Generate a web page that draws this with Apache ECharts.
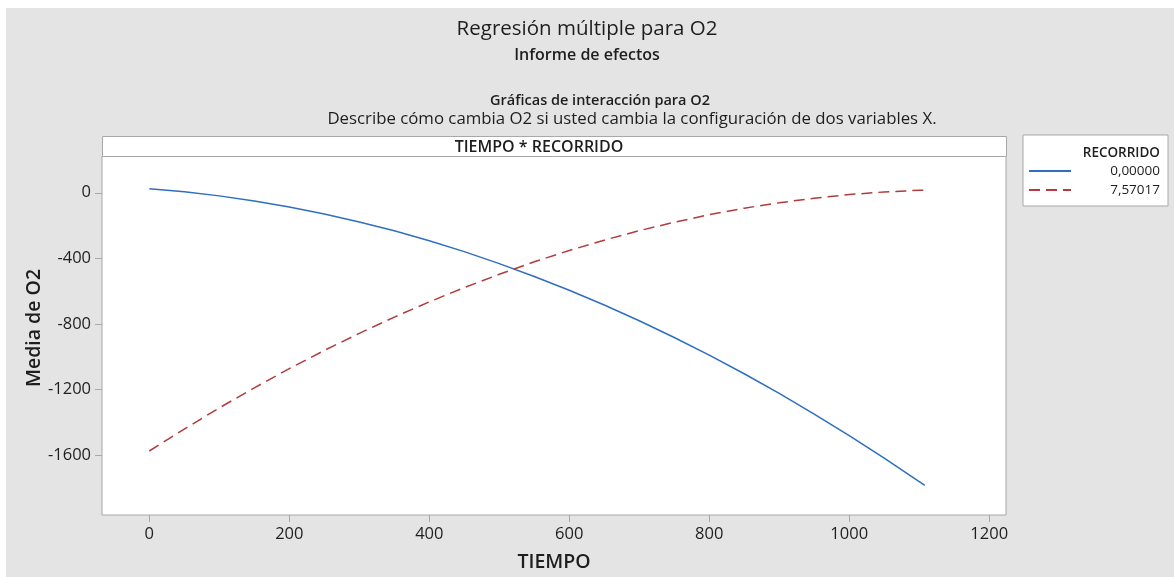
<!DOCTYPE html>
<html>
<head>
<meta charset="utf-8">
<title>Regresión múltiple para O2</title>
<script src="https://cdn.jsdelivr.net/npm/echarts@6.0.0/dist/echarts.min.js"></script>
<style>
  html, body { margin: 0; padding: 0; background: #fff; }
  #chart { width: 1174px; height: 577px; }
</style>
</head>
<body>
<div id="chart"></div>
<script>
// TIEMPO values (x) and mean O2 for each RECORRIDO level
const tiempo = [0, 50, 100, 150, 200, 250, 300, 350, 400, 450, 500, 550,
    600, 650, 700, 750, 800, 850, 900, 950, 1000, 1050, 1100, 1108];
const o2Recorrido0 = [25, 6, -19, -50, -87, -129, -178, -232, -293, -359, -432, -510,
    -594, -684, -780, -882, -990, -1103, -1223, -1349, -1480, -1618, -1761, -1784];
const o2Recorrido757 = [-1574, -1440, -1311, -1189, -1072, -961, -857, -758, -665, -578, -497, -421,
    -352, -289, -231, -180, -134, -94, -61, -33, -11, 5, 15, 16];

const seriesNames = ['0,00000', '7,57017'];
const xTicks = [0, 200, 400, 600, 800, 1000, 1200];
const yTicks = [0, -400, -800, -1200, -1600];

const FONT = '"Open Sans", "Noto Sans", sans-serif';
const TXT = '#1e1e1e';

// plot box (px)
const plotLeft = 102, plotRight = 1006, stripTop = 136, plotTop = 156, plotBottom = 521;

const chart = echarts.init(document.getElementById('chart'));

function pairs(xs, ys) {
    return xs.map((x, i) => [x, ys[i]]);
}

const option = {
    backgroundColor: '#fff',
    animation: false,
    textStyle: { fontFamily: FONT },
    title: [
        { text: 'Regresión múltiple para O2', left: 'center', top: 14,
          textStyle: { fontFamily: FONT, fontSize: 20.5, fontWeight: 'normal', color: TXT } },
        { text: 'Informe de efectos', left: 'center', top: 42,
          textStyle: { fontFamily: FONT, fontSize: 16, fontWeight: 600, color: TXT } },
        { text: 'Gráficas de interacción para O2', left: 595, textAlign: 'center', top: 88,
          textStyle: { fontFamily: FONT, fontSize: 14.5, fontWeight: 600, color: TXT } },
        { text: 'Describe cómo cambia O2 si usted cambia la configuración de dos variables X.', left: 627, textAlign: 'center', top: 106,
          textStyle: { fontFamily: FONT, fontSize: 16.8, fontWeight: 'normal', color: TXT } }
    ],
    graphic: [
        // gray panel
        { type: 'rect', z: -10, silent: true,
          shape: { x: 6, y: 8, width: 1168, height: 569 },
          style: { fill: '#e4e4e4' } },
        // facet strip
        { type: 'rect', z: 5, silent: true,
          shape: { x: plotLeft + 0.5, y: stripTop + 0.5, width: plotRight - plotLeft, height: plotTop - stripTop },
          style: { fill: '#fff', stroke: '#a8a8a8', lineWidth: 1 } },
        { type: 'text', z: 6, silent: true,
          x: 539, y: (stripTop + plotTop) / 2 + 1,
          style: { text: 'TIEMPO * RECORRIDO', fill: TXT, font: '600 16px ' + FONT,
                   align: 'center', verticalAlign: 'middle' } },
        // y axis name
        { type: 'text', z: 6, silent: true,
          x: 34, y: 328, rotation: Math.PI / 2,
          style: { text: 'Media de O2', fill: TXT, font: '600 19.5px ' + FONT,
                   align: 'center', verticalAlign: 'middle' } },
        // legend header
        { type: 'text', z: 20, silent: true,
          x: 1160, y: 153,
          style: { text: 'RECORRIDO', fill: TXT, font: '600 13.5px ' + FONT,
                   align: 'right', verticalAlign: 'middle' } }
    ],
    legend: {
        orient: 'vertical',
        left: 1023,
        top: 135,
        padding: [29, 8, 9, 5],
        itemWidth: 42,
        itemHeight: 14,
        itemGap: 5,
        backgroundColor: '#fff',
        borderColor: '#a8a8a8',
        borderWidth: 1,
        itemStyle: { opacity: 0 },
        data: seriesNames,
        formatter: name => '{v|' + name + '}',
        textStyle: {
            fontFamily: FONT, fontSize: 13.5, color: TXT,
            rich: { v: { width: 84, align: 'right', fontFamily: FONT, fontSize: 13.5, color: TXT } }
        }
    },
    grid: {
        left: plotLeft,
        top: plotTop,
        width: plotRight - plotLeft,
        height: plotBottom - plotTop,
        show: true,
        backgroundColor: '#fff',
        borderColor: '#a8a8a8',
        borderWidth: 1
    },
    xAxis: {
        type: 'value',
        min: -67.6,
        max: 1224,
        name: 'TIEMPO',
        nameLocation: 'middle',
        nameGap: 37,
        nameTextStyle: { fontFamily: FONT, fontSize: 19.5, fontWeight: 600, color: TXT },
        axisLine: { show: false, onZero: false },
        axisTick: { show: true, length: 7, lineStyle: { color: '#a8a8a8' }, customValues: xTicks },
        axisLabel: { customValues: xTicks, margin: 11, fontFamily: FONT, fontSize: 16.5, fontWeight: 500,
                     color: TXT, formatter: v => String(v) },
        splitLine: { show: false }
    },
    yAxis: {
        type: 'value',
        min: -1964,
        max: 224,
        axisLine: { show: false, onZero: false },
        axisTick: { show: true, length: 7, lineStyle: { color: '#a8a8a8' }, customValues: yTicks },
        axisLabel: { customValues: yTicks, margin: 11, fontFamily: FONT, fontSize: 16.5, fontWeight: 500,
                     color: TXT, formatter: v => String(v) },
        splitLine: { show: false }
    },
    series: [
        {
            name: seriesNames[0],
            type: 'line',
            data: pairs(tiempo, o2Recorrido0),
            showSymbol: false,
            symbol: 'none',
            lineStyle: { color: '#2f6fc0', width: 1.5, type: 'solid' },
            itemStyle: { color: '#2f6fc0' }
        },
        {
            name: seriesNames[1],
            type: 'line',
            data: pairs(tiempo, o2Recorrido757),
            showSymbol: false,
            symbol: 'none',
            lineStyle: { color: '#b23b3b', width: 1.5, type: [11, 6] },
            itemStyle: { color: '#b23b3b' }
        }
    ]
};

chart.setOption(option);
</script>
</body>
</html>
